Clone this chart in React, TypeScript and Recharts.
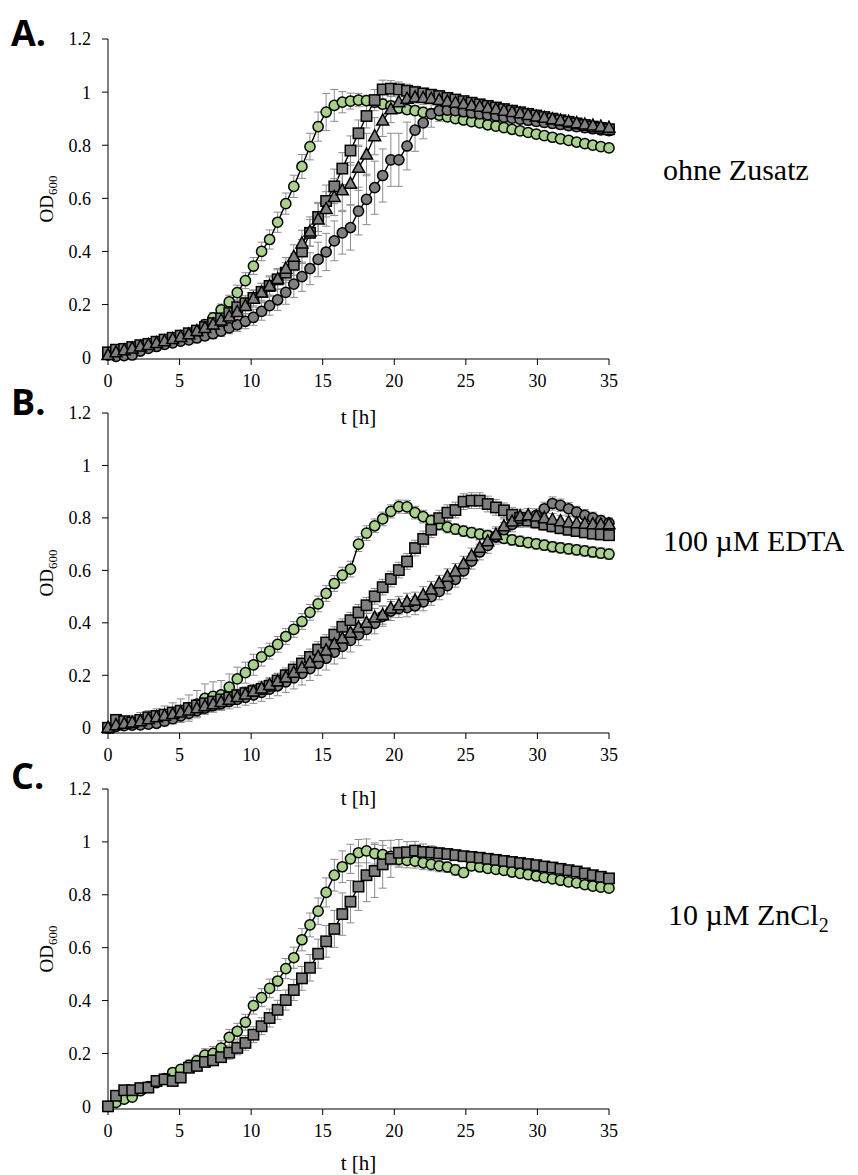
import React from 'react';
import { LineChart, Line, XAxis, YAxis, ErrorBar } from 'recharts';

// sampling times [h], same for every well
const hours = [
  0, 0.56, 1.13, 1.69, 2.26, 2.82, 3.39, 3.95, 4.52, 5.08, 5.65, 6.21, 6.77, 7.34, 7.9, 8.47,
  9.03, 9.6, 10.16, 10.73, 11.29, 11.85, 12.42, 12.98, 13.55, 14.11, 14.68, 15.24, 15.81, 16.37,
  16.94, 17.5, 18.06, 18.63, 19.19, 19.76, 20.32, 20.89, 21.45, 22.02, 22.58, 23.14, 23.71, 24.27,
  24.84, 25.4, 25.97, 26.53, 27.1, 27.66, 28.23, 28.79, 29.35, 29.92, 30.48, 31.05, 31.61, 32.18,
  32.74, 33.31, 33.87, 34.43, 35,
];

const hourTicks = [0, 5, 10, 15, 20, 25, 30, 35];
const odTicks = [0, 0.2, 0.4, 0.6, 0.8, 1, 1.2];

// A. ohne Zusatz
const greenA = [
  0.02, 0.022, 0.028, 0.033, 0.04, 0.045, 0.05, 0.055, 0.062, 0.07, 0.078, 0.095, 0.125, 0.15, 0.18, 0.21,
  0.245, 0.29, 0.345, 0.4, 0.445, 0.51, 0.58, 0.645, 0.72, 0.795, 0.87, 0.925, 0.95, 0.962,
  0.966, 0.97, 0.968, 0.962, 0.955, 0.948, 0.94, 0.934, 0.93, 0.924, 0.919, 0.913, 0.907, 0.9,
  0.895, 0.889, 0.884, 0.877, 0.872, 0.866, 0.86, 0.854, 0.848, 0.842, 0.836, 0.83, 0.824, 0.818,
  0.812, 0.806, 0.8, 0.795, 0.79,
];
const greenAErr = [
  0.01, 0.01, 0.01, 0.01, 0.01, 0.01, 0.01, 0.012, 0.012, 0.014, 0.015, 0.016, 0.018, 0.02, 0.022, 0.025,
  0.028, 0.03, 0.032, 0.035, 0.036, 0.038, 0.04, 0.042, 0.045, 0.05, 0.055, 0.07, 0.06, 0.04,
  0.03, 0.025, 0.02, 0.02, 0.018, 0.018, 0.016, 0.016, 0.015, 0.015, 0.015, 0.015, 0.015, 0.015,
  0.015, 0.015, 0.015, 0.015, 0.015, 0.015, 0.015, 0.015, 0.015, 0.015, 0.015, 0.015, 0.015, 0.015,
  0.015, 0.015, 0.015, 0.015, 0.015,
];
const circleA = [
  0.01, 0.005, 0.008, 0.01, 0.025, 0.035, 0.042, 0.05, 0.056, 0.062, 0.067, 0.074, 0.082, 0.09, 0.1, 0.112,
  0.124, 0.137, 0.152, 0.174, 0.196, 0.218, 0.246, 0.277, 0.305, 0.335, 0.37, 0.398, 0.44, 0.47,
  0.49, 0.552, 0.596, 0.64, 0.686, 0.745, 0.745, 0.797, 0.857, 0.884, 0.918, 0.93, 0.932, 0.93,
  0.926, 0.922, 0.918, 0.914, 0.91, 0.906, 0.902, 0.898, 0.894, 0.89, 0.886, 0.882, 0.878, 0.874,
  0.87, 0.866, 0.862, 0.858, 0.855,
];
const circleAErr = [
  0.01, 0.01, 0.01, 0.01, 0.01, 0.01, 0.01, 0.01, 0.01, 0.01, 0.012, 0.014, 0.016, 0.018, 0.02, 0.022,
  0.025, 0.028, 0.03, 0.033, 0.036, 0.04, 0.045, 0.05, 0.055, 0.06, 0.065, 0.07, 0.075, 0.08,
  0.085, 0.09, 0.095, 0.1, 0.1, 0.1, 0.1, 0.09, 0.08, 0.06, 0.05, 0.04, 0.035, 0.03,
  0.025, 0.022, 0.02, 0.02, 0.02, 0.02, 0.018, 0.018, 0.018, 0.018, 0.018, 0.018, 0.018, 0.018,
  0.018, 0.018, 0.018, 0.018, 0.018,
];
const squareA = [
  0.02, 0.03, 0.033, 0.04, 0.047, 0.052, 0.06, 0.068, 0.075, 0.083, 0.092, 0.102, 0.115, 0.13, 0.148, 0.168,
  0.19, 0.205, 0.225, 0.248, 0.27, 0.295, 0.32, 0.35, 0.4, 0.47, 0.53, 0.59, 0.645, 0.712,
  0.78, 0.845, 0.91, 0.97, 1.01, 1.013, 1.01, 1.005, 1.0, 0.995, 0.99, 0.985, 0.978, 0.972,
  0.966, 0.96, 0.954, 0.948, 0.942, 0.936, 0.93, 0.924, 0.918, 0.912, 0.906, 0.9, 0.894, 0.888,
  0.882, 0.876, 0.87, 0.865, 0.86,
];
const squareAErr = [
  0.01, 0.01, 0.01, 0.012, 0.012, 0.012, 0.014, 0.014, 0.015, 0.015, 0.016, 0.017, 0.018, 0.02, 0.022, 0.024,
  0.026, 0.028, 0.03, 0.032, 0.034, 0.036, 0.038, 0.04, 0.045, 0.05, 0.055, 0.06, 0.065, 0.06,
  0.055, 0.05, 0.045, 0.04, 0.035, 0.03, 0.028, 0.025, 0.022, 0.02, 0.02, 0.02, 0.02, 0.018,
  0.018, 0.018, 0.018, 0.017, 0.017, 0.017, 0.016, 0.016, 0.016, 0.016, 0.015, 0.015, 0.015, 0.015,
  0.015, 0.015, 0.015, 0.015, 0.015,
];
const triangleA = [
  0.01, 0.02, 0.028, 0.035, 0.042, 0.048, 0.055, 0.062, 0.07, 0.078, 0.088, 0.1, 0.112, 0.125, 0.14, 0.155,
  0.172, 0.195, 0.222, 0.245, 0.27, 0.296, 0.335, 0.38, 0.43, 0.475, 0.52, 0.56, 0.605, 0.63,
  0.655, 0.715, 0.765, 0.834, 0.893, 0.935, 0.962, 0.975, 0.98, 0.978, 0.975, 0.97, 0.965, 0.96,
  0.955, 0.95, 0.945, 0.94, 0.935, 0.93, 0.925, 0.92, 0.914, 0.908, 0.903, 0.898, 0.893, 0.888,
  0.883, 0.878, 0.874, 0.87, 0.866,
];
const triangleAErr = [
  0.01, 0.01, 0.01, 0.01, 0.01, 0.01, 0.012, 0.012, 0.012, 0.014, 0.015, 0.016, 0.018, 0.02, 0.022, 0.025,
  0.028, 0.03, 0.032, 0.035, 0.038, 0.04, 0.042, 0.045, 0.05, 0.055, 0.06, 0.065, 0.07, 0.075,
  0.08, 0.085, 0.08, 0.07, 0.06, 0.05, 0.04, 0.035, 0.03, 0.025, 0.02, 0.02, 0.02, 0.02,
  0.018, 0.018, 0.018, 0.018, 0.017, 0.017, 0.017, 0.016, 0.016, 0.016, 0.015, 0.015, 0.015, 0.015,
  0.015, 0.015, 0.015, 0.015, 0.015,
];

// B. 100 µM EDTA
const greenB = [
  0, 0.015, 0.02, 0.022, 0.03, 0.035, 0.04, 0.048, 0.055, 0.065, 0.075, 0.09, 0.112, 0.12, 0.125, 0.155,
  0.186, 0.21, 0.24, 0.27, 0.292, 0.318, 0.348, 0.375, 0.405, 0.44, 0.472, 0.512, 0.55, 0.582,
  0.605, 0.7, 0.742, 0.77, 0.796, 0.825, 0.843, 0.842, 0.82, 0.805, 0.79, 0.775, 0.765, 0.757,
  0.75, 0.744, 0.738, 0.733, 0.728, 0.722, 0.716, 0.711, 0.706, 0.701, 0.696, 0.69, 0.686, 0.682,
  0.678, 0.674, 0.67, 0.666, 0.662,
];
const greenBErr = [
  0.02, 0.02, 0.022, 0.025, 0.028, 0.03, 0.032, 0.035, 0.04, 0.045, 0.05, 0.052, 0.055, 0.055, 0.055, 0.05,
  0.045, 0.04, 0.04, 0.035, 0.03, 0.03, 0.03, 0.03, 0.03, 0.03, 0.03, 0.03, 0.03, 0.03,
  0.03, 0.028, 0.028, 0.026, 0.026, 0.025, 0.025, 0.025, 0.024, 0.024, 0.022, 0.022, 0.022, 0.02,
  0.02, 0.02, 0.02, 0.02, 0.02, 0.02, 0.02, 0.02, 0.02, 0.02, 0.02, 0.02, 0.02, 0.02,
  0.02, 0.02, 0.02, 0.02, 0.02,
];
const circleB = [
  0, 0.005, 0.008, 0.01, 0.011, 0.014, 0.017, 0.025, 0.035, 0.045, 0.055, 0.065, 0.075, 0.084, 0.092, 0.1,
  0.108, 0.116, 0.125, 0.135, 0.147, 0.16, 0.175, 0.19, 0.207, 0.225, 0.245, 0.265, 0.288, 0.31,
  0.333, 0.355, 0.375, 0.398, 0.425, 0.445, 0.455, 0.458, 0.465, 0.48, 0.5, 0.52, 0.542, 0.566,
  0.598, 0.635, 0.67, 0.695, 0.73, 0.755, 0.775, 0.79, 0.8, 0.81, 0.835, 0.855, 0.848, 0.835,
  0.822, 0.81, 0.8, 0.79, 0.78,
];
const circleBErr = [
  0.01, 0.01, 0.012, 0.012, 0.014, 0.015, 0.016, 0.018, 0.02, 0.02, 0.022, 0.022, 0.024, 0.025, 0.026, 0.028,
  0.03, 0.03, 0.032, 0.034, 0.036, 0.038, 0.04, 0.042, 0.044, 0.045, 0.045, 0.045, 0.045, 0.045,
  0.044, 0.042, 0.04, 0.04, 0.038, 0.036, 0.035, 0.035, 0.034, 0.034, 0.033, 0.032, 0.032, 0.03,
  0.03, 0.03, 0.03, 0.03, 0.03, 0.028, 0.028, 0.026, 0.026, 0.025, 0.025, 0.025, 0.024, 0.024,
  0.022, 0.022, 0.022, 0.02, 0.02,
];
const squareB = [
  0, 0.03, 0.025, 0.02, 0.03, 0.04, 0.045, 0.05, 0.058, 0.065, 0.075, 0.085, 0.093, 0.1, 0.108, 0.116,
  0.124, 0.132, 0.14, 0.148, 0.16, 0.18, 0.2, 0.222, 0.245, 0.27, 0.298, 0.325, 0.355, 0.385,
  0.41, 0.44, 0.467, 0.501, 0.536, 0.567, 0.601, 0.634, 0.685, 0.72, 0.755, 0.799, 0.82, 0.83,
  0.862, 0.866, 0.866, 0.853, 0.84, 0.829, 0.812, 0.8, 0.79, 0.783, 0.775, 0.768, 0.761, 0.755,
  0.75, 0.745, 0.74, 0.737, 0.734,
];
const squareBErr = [
  0.015, 0.015, 0.015, 0.015, 0.016, 0.016, 0.017, 0.018, 0.018, 0.019, 0.02, 0.02, 0.02, 0.021, 0.022, 0.022,
  0.023, 0.024, 0.025, 0.026, 0.027, 0.028, 0.028, 0.029, 0.03, 0.03, 0.03, 0.03, 0.03, 0.03,
  0.03, 0.03, 0.03, 0.03, 0.03, 0.03, 0.03, 0.03, 0.03, 0.03, 0.03, 0.03, 0.03, 0.03,
  0.03, 0.03, 0.03, 0.03, 0.03, 0.028, 0.027, 0.026, 0.025, 0.024, 0.023, 0.022, 0.022, 0.021,
  0.02, 0.02, 0.02, 0.02, 0.02,
];
const triangleB = [
  0, 0.01, 0.015, 0.02, 0.025, 0.032, 0.04, 0.046, 0.052, 0.058, 0.066, 0.074, 0.082, 0.09, 0.098, 0.107,
  0.117, 0.127, 0.138, 0.15, 0.163, 0.177, 0.192, 0.21, 0.228, 0.248, 0.27, 0.295, 0.318, 0.34,
  0.362, 0.382, 0.4, 0.42, 0.43, 0.455, 0.467, 0.48, 0.485, 0.506, 0.527, 0.551, 0.576, 0.596,
  0.624, 0.655, 0.686, 0.711, 0.736, 0.768, 0.786, 0.806, 0.81, 0.805, 0.799, 0.793, 0.787, 0.783,
  0.78, 0.778, 0.776, 0.775, 0.776,
];
const triangleBErr = [
  0.012, 0.012, 0.012, 0.013, 0.014, 0.015, 0.016, 0.017, 0.018, 0.019, 0.02, 0.02, 0.021, 0.022, 0.022, 0.023,
  0.024, 0.025, 0.026, 0.027, 0.028, 0.029, 0.03, 0.03, 0.031, 0.032, 0.032, 0.033, 0.034, 0.034,
  0.035, 0.035, 0.035, 0.035, 0.035, 0.034, 0.034, 0.033, 0.032, 0.032, 0.031, 0.03, 0.03, 0.03,
  0.03, 0.03, 0.03, 0.03, 0.03, 0.028, 0.028, 0.027, 0.026, 0.025, 0.024, 0.024, 0.023, 0.022,
  0.022, 0.021, 0.02, 0.02, 0.02,
];

// C. 10 µM ZnCl2
const greenC = [
  0, 0.015, 0.027, 0.035, 0.059, 0.075, 0.09, 0.105, 0.128, 0.14, 0.155, 0.172, 0.194, 0.2, 0.22, 0.261,
  0.284, 0.318, 0.381, 0.411, 0.446, 0.474, 0.521, 0.562, 0.63, 0.686, 0.738, 0.809, 0.874, 0.906,
  0.936, 0.959, 0.966, 0.956, 0.952, 0.945, 0.934, 0.93, 0.927, 0.921, 0.915, 0.909, 0.905, 0.894,
  0.884, 0.909, 0.905, 0.9, 0.896, 0.892, 0.886, 0.881, 0.876, 0.871, 0.865, 0.86, 0.855, 0.849,
  0.845, 0.838, 0.833, 0.829, 0.825,
];
const greenCErr = [
  0.01, 0.01, 0.01, 0.012, 0.012, 0.013, 0.014, 0.015, 0.015, 0.016, 0.02, 0.022, 0.024, 0.026, 0.028, 0.03,
  0.03, 0.03, 0.032, 0.034, 0.035, 0.036, 0.038, 0.04, 0.042, 0.045, 0.05, 0.055, 0.06, 0.06,
  0.055, 0.05, 0.045, 0.04, 0.035, 0.032, 0.03, 0.028, 0.026, 0.025, 0.024, 0.022, 0.02, 0.02,
  0.018, 0.015, 0.014, 0.013, 0.012, 0.012, 0.012, 0.012, 0.012, 0.012, 0.012, 0.012, 0.012, 0.012,
  0.012, 0.012, 0.012, 0.012, 0.012,
];
const squareC = [
  0, 0.04, 0.061, 0.061, 0.069, 0.071, 0.096, 0.102, 0.096, 0.109, 0.146, 0.153, 0.168, 0.174, 0.186, 0.203,
  0.221, 0.24, 0.271, 0.303, 0.334, 0.365, 0.402, 0.44, 0.484, 0.524, 0.577, 0.624, 0.671, 0.727,
  0.774, 0.831, 0.874, 0.89, 0.915, 0.936, 0.959, 0.961, 0.967, 0.962, 0.96, 0.957, 0.954, 0.95,
  0.946, 0.943, 0.94, 0.936, 0.932, 0.928, 0.924, 0.92, 0.916, 0.912, 0.907, 0.903, 0.898, 0.893,
  0.888, 0.881, 0.874, 0.868, 0.862,
];
const squareCErr = [
  0.01, 0.01, 0.01, 0.012, 0.012, 0.013, 0.014, 0.015, 0.016, 0.017, 0.018, 0.018, 0.019, 0.02, 0.02, 0.025,
  0.026, 0.028, 0.03, 0.032, 0.034, 0.036, 0.038, 0.04, 0.045, 0.05, 0.055, 0.06, 0.07, 0.08,
  0.08, 0.09, 0.1, 0.1, 0.09, 0.07, 0.05, 0.04, 0.035, 0.03, 0.025, 0.022, 0.02, 0.018,
  0.016, 0.015, 0.015, 0.015, 0.015, 0.015, 0.015, 0.015, 0.015, 0.015, 0.015, 0.015, 0.015, 0.015,
  0.015, 0.015, 0.015, 0.015, 0.015,
];

const SERIF = '"Liberation Serif", "Times New Roman", serif';
const GREEN = '#a9d18e';
const GREY = '#7f7f7f';
const ERR = '#8c8c8c';

type Series = { key: string; shape: 'circle' | 'square' | 'triangle'; fill: string; values: number[]; err: number[] };

const seriesA: Series[] = [
  { key: 'green', shape: 'circle', fill: GREEN, values: greenA, err: greenAErr },
  { key: 'circle', shape: 'circle', fill: GREY, values: circleA, err: circleAErr },
  { key: 'square', shape: 'square', fill: GREY, values: squareA, err: squareAErr },
  { key: 'triangle', shape: 'triangle', fill: GREY, values: triangleA, err: triangleAErr },
];
const seriesB: Series[] = [
  { key: 'green', shape: 'circle', fill: GREEN, values: greenB, err: greenBErr },
  { key: 'circle', shape: 'circle', fill: GREY, values: circleB, err: circleBErr },
  { key: 'square', shape: 'square', fill: GREY, values: squareB, err: squareBErr },
  { key: 'triangle', shape: 'triangle', fill: GREY, values: triangleB, err: triangleBErr },
];
const seriesC: Series[] = [
  { key: 'green', shape: 'circle', fill: GREEN, values: greenC, err: greenCErr },
  { key: 'square', shape: 'square', fill: GREY, values: squareC, err: squareCErr },
];

function buildRows(series: Series[]) {
  return hours.map((t, i) => {
    const row: Record<string, number> = { t };
    series.forEach((s) => {
      row[s.key] = s.values[i];
      row[s.key + 'Err'] = s.err[i];
    });
    return row;
  });
}

function marker(s: Series) {
  if (s.shape === 'circle') {
    return { r: 5.1, fill: s.fill, stroke: '#000', strokeWidth: 1.5 };
  }
  return (p: any) => {
    const { cx, cy, index } = p;
    const k = `${s.key}-${index}`;
    if (cx == null || cy == null) return <g key={k} />;
    if (s.shape === 'square') {
      return <rect key={k} x={cx - 5.2} y={cy - 5.2} width={10.4} height={10.4} fill={s.fill} stroke="#000" strokeWidth={1.5} />;
    }
    return (
      <polygon
        key={k}
        points={`${cx},${cy - 6.5} ${cx - 6},${cy + 4.5} ${cx + 6},${cy + 4.5}`}
        fill={s.fill}
        stroke="#000"
        strokeWidth={1.5}
      />
    );
  };
}

const odLabel = (props: any) => {
  const vb = props.viewBox || { y: 39, height: 320 };
  const cy = vb.y + vb.height / 2;
  return (
    <text transform={`translate(53,${cy}) rotate(-90)`} textAnchor="middle" fontFamily={SERIF} fontSize={19} fill="#000">
      OD<tspan fontSize={13} dy={4}>600</tspan>
    </text>
  );
};

function GrowthPanel({ series, top, axisHeight }: { series: Series[]; top: number; axisHeight: number }) {
  const rows = buildRows(series);
  const tickStyle = { fill: '#000', fontSize: 18, fontFamily: SERIF };
  return (
    <div style={{ position: 'absolute', left: 0, top }}>
      <LineChart width={640} height={39 + 320 + axisHeight + 8} data={rows} margin={{ top: 39, right: 31, bottom: 8, left: 0 }}>
        <XAxis
          dataKey="t"
          type="number"
          domain={[0, 35]}
          ticks={hourTicks}
          height={axisHeight}
          tick={tickStyle}
          tickSize={6}
          tickMargin={9}
          axisLine={{ stroke: '#000' }}
          tickLine={{ stroke: '#000' }}
          label={{ value: 't [h]', position: 'insideBottom', offset: 0, fill: '#000', fontSize: 21, fontWeight: 400, fontFamily: SERIF }}
        />
        <YAxis
          type="number"
          domain={[0, 1.2]}
          ticks={odTicks}
          width={108}
          tick={tickStyle}
          tickSize={6}
          tickMargin={11}
          axisLine={{ stroke: '#000' }}
          tickLine={{ stroke: '#000' }}
          label={{ content: odLabel }}
        />
        {series.map((s) => (
          <Line
            key={s.key}
            type="linear"
            dataKey={s.key}
            stroke="#000"
            strokeWidth={1.4}
            dot={marker(s)}
            activeDot={false}
            isAnimationActive={false}
          >
            <ErrorBar dataKey={s.key + 'Err'} width={4} stroke={ERR} strokeWidth={1} direction="y" />
          </Line>
        ))}
      </LineChart>
    </div>
  );
}

export default function App() {
  const letter = { fontFamily: '"Open Sans", "Liberation Sans", sans-serif', fontWeight: 700, fontSize: 36, fill: '#000' };
  const cond = { fontFamily: SERIF, fontSize: 30, fill: '#000' };
  return (
    <div style={{ position: 'absolute', left: 0, top: 0, width: 858, height: 1175, background: '#fff' }}>
      <GrowthPanel series={seriesA} top={0} axisHeight={65} />
      <GrowthPanel series={seriesB} top={374} axisHeight={72} />
      <GrowthPanel series={seriesC} top={750} axisHeight={61} />
      <svg width={858} height={1175} style={{ position: 'absolute', left: 0, top: 0, pointerEvents: 'none' }}>
        <text x={11} y={46} {...letter}>A.</text>
        <text x={11} y={415} {...letter}>B.</text>
        <text x={11} y={789} {...letter}>C.</text>
        <text x={663} y={180} {...cond}>ohne Zusatz</text>
        <text x={663} y={551} {...cond}>100 µM EDTA</text>
        <text x={668} y={925} {...cond}>
          10 µM ZnCl<tspan fontSize={20} dy={7}>2</tspan>
        </text>
      </svg>
    </div>
  );
}
